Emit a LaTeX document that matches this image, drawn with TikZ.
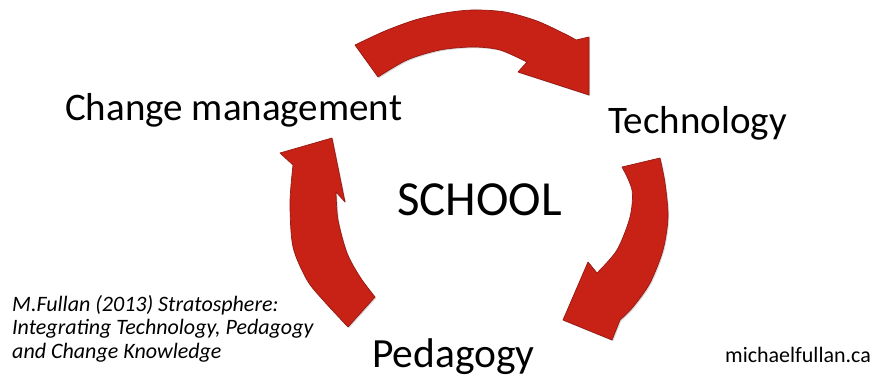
\documentclass[tikz,border=0pt]{standalone}
\usepackage{fontspec}
\setmainfont{Carlito}
\usetikzlibrary{shadows}
\definecolor{arrowred}{RGB}{200,34,22}
\definecolor{arrowdark}{RGB}{150,24,18}

\begin{document}
\begin{tikzpicture}[x=1pt, y=-1pt,
    arrowband/.style={fill=arrowred, draw=arrowdark, line width=0.7pt, line join=round,
        drop shadow={shadow xshift=1.2pt, shadow yshift=-1.2pt, opacity=0.3}},
    lbl/.style={anchor=base west, inner sep=0pt, font=\fontsize{39}{46}\selectfont},
    note/.style={anchor=base west, inner sep=0pt, align=left,
        font=\fontsize{22}{23.5}\selectfont\itshape}]
    \useasboundingbox (0,0) rectangle (873,377);

    \fill[arrowband] (355,45) -- plot[smooth] coordinates {(355,45) (385,31) (415,20) (445,13) (473,10) (505,12) (537,21) (567,35) (576,40)}
        -- (589,37) -- (589,95) -- (518,72)
        -- plot[smooth] coordinates {(527,62) (500,50) (473,47) (440,50) (407,60) (378,77)} -- cycle;
    \fill[arrowband] (622,167) -- plot[smooth] coordinates {(660,158) (665,183) (668,217) (663,250) (650,283) (633,307) (620,320)}
        -- (612,340) -- (563,320) -- (588,262)
        -- plot[smooth] coordinates {(597,273) (617,250) (630,217) (632,190) (622,167)} -- cycle;
    \fill[arrowband] (348,327) -- plot[smooth] coordinates {(348,327) (323,300) (307,280) (293,247) (290,203) (293,165)}
        -- (280,153) -- (332,138) -- (345,202)
        -- plot[smooth] coordinates {(336,192) (338,220) (347,253) (360,277) (375,297)} -- cycle;

    \node[lbl] (change) at (65,121) {Change management};
    \node[lbl] (tech) at (608,134) {Technology};
    \node[lbl, font=\fontsize{49}{58}\selectfont] (school) at (397,215) {SCHOOL};
    \node[lbl, font=\fontsize{41.5}{48}\selectfont] (peda) at (372,367) {Pedagogy};
    \node[note] (cite) at (12,358) {M.Fullan (2013) Stratosphere:\\Integrating Technology, Pedagogy\\and Change Knowledge};
    \node[note, font=\fontsize{22}{26}\selectfont] (site) at (725,362) {michaelfullan.ca};
\end{tikzpicture}
\end{document}
